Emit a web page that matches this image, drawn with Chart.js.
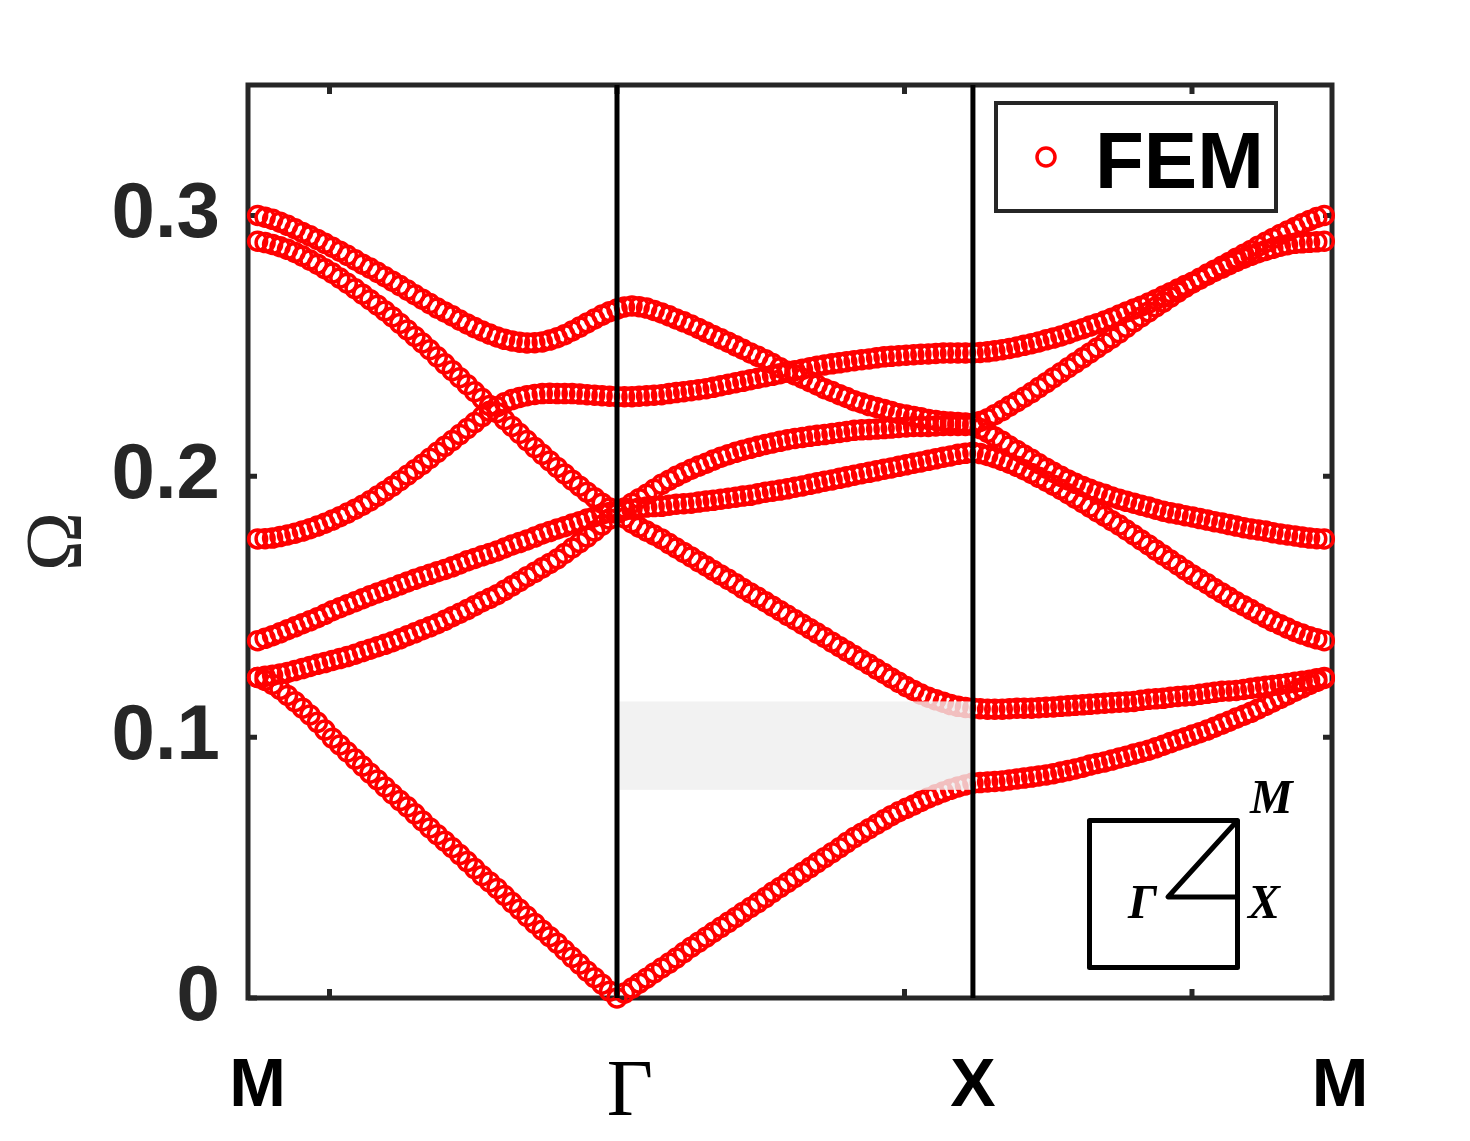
<!DOCTYPE html>
<html>
<head>
<meta charset="utf-8">
<title>FEM band structure</title>
<script src="https://cdn.jsdelivr.net/npm/chart.js@4.4.1/dist/chart.umd.min.js"></script>
<style>
  html, body { margin: 0; padding: 0; background: #fff; }
  #wrap { width: 1470px; height: 1141px; }
</style>
</head>
<body>
<div id="wrap"><canvas id="bands" width="1470" height="1141"></canvas></div>
<script>
// k along the path M -> Gamma -> X -> M (48 steps per leg)
var kPath = [
  -1.250, -1.224, -1.198, -1.172, -1.146, -1.120, -1.094, -1.068, -1.042, -1.016, -0.990, -0.964,
  -0.938, -0.911, -0.885, -0.859, -0.833, -0.807, -0.781, -0.755, -0.729, -0.703, -0.677, -0.651,
  -0.625, -0.599, -0.573, -0.547, -0.521, -0.495, -0.469, -0.443, -0.417, -0.391, -0.365, -0.339,
  -0.313, -0.286, -0.260, -0.234, -0.208, -0.182, -0.156, -0.130, -0.104, -0.078, -0.052, -0.026, 0,
  0.026, 0.052, 0.077, 0.103, 0.129, 0.155, 0.181, 0.206, 0.232, 0.258, 0.284, 0.310,
  0.335, 0.361, 0.387, 0.413, 0.438, 0.464, 0.490, 0.516, 0.541, 0.567, 0.593, 0.619,
  0.645, 0.671, 0.696, 0.722, 0.748, 0.774, 0.799, 0.825, 0.851, 0.877, 0.903, 0.929,
  0.954, 0.980, 1.006, 1.032, 1.057, 1.083, 1.109, 1.135, 1.160, 1.186, 1.212, 1.238,
  1.263, 1.289, 1.314, 1.340, 1.365, 1.391, 1.416, 1.442, 1.467, 1.493, 1.518, 1.544,
  1.569, 1.594, 1.620, 1.645, 1.670, 1.696, 1.721, 1.747, 1.772, 1.798, 1.823, 1.849,
  1.874, 1.900, 1.925, 1.951, 1.976, 2.002, 2.027, 2.053, 2.078, 2.104, 2.129, 2.154,
  2.180, 2.205, 2.230, 2.256, 2.281, 2.307, 2.332, 2.358, 2.383, 2.409, 2.434, 2.460
];

// normalised frequency Omega of each branch
var band1 = [
  0.1229, 0.1218, 0.1202, 0.1183, 0.1160, 0.1136, 0.1111, 0.1085, 0.1057, 0.1027, 0.0996, 0.0970,
  0.0943, 0.0916, 0.0889, 0.0862, 0.0836, 0.0809, 0.0782, 0.0757, 0.0733, 0.0706, 0.0679, 0.0652,
  0.0626, 0.0601, 0.0576, 0.0550, 0.0523, 0.0496, 0.0469, 0.0445, 0.0420, 0.0393, 0.0366, 0.0340,
  0.0313, 0.0286, 0.0260, 0.0235, 0.0210, 0.0183, 0.0156, 0.0130, 0.0103, 0.0078, 0.0053, 0.0026, 0.0000,
  0.0019, 0.0038, 0.0057, 0.0076, 0.0096, 0.0115, 0.0134, 0.0153, 0.0174, 0.0195, 0.0214, 0.0233,
  0.0252, 0.0271, 0.0290, 0.0309, 0.0328, 0.0347, 0.0366, 0.0385, 0.0405, 0.0424, 0.0443, 0.0462,
  0.0481, 0.0500, 0.0519, 0.0538, 0.0557, 0.0576, 0.0596, 0.0615, 0.0632, 0.0649, 0.0666, 0.0683,
  0.0699, 0.0714, 0.0727, 0.0740, 0.0754, 0.0767, 0.0779, 0.0790, 0.0800, 0.0809, 0.0817, 0.0824,
  0.0826, 0.0828, 0.0830, 0.0832, 0.0836, 0.0840, 0.0843, 0.0847, 0.0851, 0.0855, 0.0860, 0.0866,
  0.0872, 0.0878, 0.0885, 0.0893, 0.0899, 0.0905, 0.0912, 0.0920, 0.0927, 0.0935, 0.0942, 0.0950,
  0.0959, 0.0969, 0.0979, 0.0989, 0.0998, 0.1008, 0.1017, 0.1027, 0.1038, 0.1050, 0.1061, 0.1073,
  0.1084, 0.1095, 0.1108, 0.1122, 0.1135, 0.1149, 0.1162, 0.1176, 0.1189, 0.1202, 0.1214, 0.1225
];
var band2 = [
  0.1229, 0.1233, 0.1237, 0.1242, 0.1248, 0.1255, 0.1263, 0.1271, 0.1279, 0.1286, 0.1294, 0.1301,
  0.1309, 0.1318, 0.1328, 0.1337, 0.1347, 0.1356, 0.1366, 0.1377, 0.1389, 0.1400, 0.1412, 0.1423,
  0.1435, 0.1448, 0.1462, 0.1475, 0.1489, 0.1504, 0.1519, 0.1532, 0.1546, 0.1563, 0.1580, 0.1597,
  0.1615, 0.1632, 0.1649, 0.1666, 0.1683, 0.1704, 0.1725, 0.1746, 0.1767, 0.1790, 0.1813, 0.1836, 0.1859,
  0.1840, 0.1821, 0.1805, 0.1790, 0.1775, 0.1760, 0.1742, 0.1725, 0.1708, 0.1691, 0.1673, 0.1656,
  0.1639, 0.1622, 0.1605, 0.1588, 0.1570, 0.1553, 0.1536, 0.1519, 0.1502, 0.1485, 0.1467, 0.1450,
  0.1433, 0.1416, 0.1399, 0.1382, 0.1364, 0.1347, 0.1330, 0.1313, 0.1296, 0.1279, 0.1261, 0.1244,
  0.1227, 0.1210, 0.1194, 0.1179, 0.1165, 0.1153, 0.1143, 0.1134, 0.1125, 0.1118, 0.1114, 0.1111,
  0.1109, 0.1107, 0.1107, 0.1107, 0.1109, 0.1111, 0.1111, 0.1111, 0.1113, 0.1115, 0.1116, 0.1118,
  0.1120, 0.1122, 0.1124, 0.1126, 0.1128, 0.1130, 0.1132, 0.1134, 0.1135, 0.1137, 0.1141, 0.1145,
  0.1147, 0.1149, 0.1153, 0.1156, 0.1158, 0.1160, 0.1164, 0.1168, 0.1172, 0.1176, 0.1177, 0.1179,
  0.1183, 0.1187, 0.1191, 0.1195, 0.1198, 0.1202, 0.1206, 0.1210, 0.1214, 0.1218, 0.1224, 0.1229
];
var band3 = [
  0.1370, 0.1379, 0.1389, 0.1400, 0.1412, 0.1423, 0.1435, 0.1446, 0.1458, 0.1471, 0.1485, 0.1496,
  0.1508, 0.1519, 0.1531, 0.1542, 0.1553, 0.1563, 0.1573, 0.1584, 0.1595, 0.1605, 0.1615, 0.1624,
  0.1634, 0.1643, 0.1653, 0.1664, 0.1676, 0.1685, 0.1695, 0.1704, 0.1714, 0.1725, 0.1737, 0.1746,
  0.1756, 0.1767, 0.1779, 0.1788, 0.1798, 0.1807, 0.1817, 0.1826, 0.1836, 0.1845, 0.1855, 0.1861, 0.1866,
  0.1870, 0.1874, 0.1878, 0.1882, 0.1884, 0.1885, 0.1889, 0.1893, 0.1895, 0.1897, 0.1901, 0.1905,
  0.1908, 0.1912, 0.1916, 0.1920, 0.1924, 0.1927, 0.1933, 0.1939, 0.1943, 0.1947, 0.1952, 0.1958,
  0.1963, 0.1969, 0.1975, 0.1981, 0.1986, 0.1992, 0.1998, 0.2004, 0.2010, 0.2015, 0.2021, 0.2027,
  0.2032, 0.2038, 0.2044, 0.2050, 0.2055, 0.2061, 0.2067, 0.2073, 0.2078, 0.2084, 0.2088, 0.2092,
  0.2087, 0.2080, 0.2071, 0.2061, 0.2050, 0.2038, 0.2025, 0.2011, 0.1996, 0.1981, 0.1966, 0.1950,
  0.1933, 0.1916, 0.1899, 0.1882, 0.1864, 0.1847, 0.1830, 0.1813, 0.1794, 0.1775, 0.1756, 0.1737,
  0.1717, 0.1698, 0.1679, 0.1660, 0.1641, 0.1622, 0.1605, 0.1588, 0.1570, 0.1553, 0.1536, 0.1519,
  0.1504, 0.1489, 0.1473, 0.1458, 0.1444, 0.1431, 0.1418, 0.1405, 0.1395, 0.1385, 0.1377, 0.1370
];
var band4 = [
  0.2901, 0.2896, 0.2889, 0.2880, 0.2870, 0.2858, 0.2844, 0.2829, 0.2813, 0.2796, 0.2779, 0.2760,
  0.2740, 0.2719, 0.2698, 0.2677, 0.2656, 0.2634, 0.2611, 0.2586, 0.2561, 0.2536, 0.2511, 0.2485,
  0.2458, 0.2431, 0.2405, 0.2378, 0.2351, 0.2324, 0.2298, 0.2271, 0.2244, 0.2217, 0.2191, 0.2164,
  0.2137, 0.2110, 0.2084, 0.2059, 0.2034, 0.2009, 0.1985, 0.1962, 0.1939, 0.1918, 0.1897, 0.1878, 0.1859,
  0.1878, 0.1897, 0.1914, 0.1931, 0.1950, 0.1969, 0.1985, 0.2000, 0.2014, 0.2027, 0.2039, 0.2050,
  0.2062, 0.2073, 0.2083, 0.2092, 0.2100, 0.2107, 0.2115, 0.2122, 0.2128, 0.2134, 0.2140, 0.2145,
  0.2149, 0.2153, 0.2157, 0.2160, 0.2164, 0.2168, 0.2172, 0.2176, 0.2178, 0.2179, 0.2181, 0.2183,
  0.2185, 0.2187, 0.2189, 0.2191, 0.2191, 0.2191, 0.2193, 0.2195, 0.2195, 0.2195, 0.2195, 0.2195,
  0.2183, 0.2168, 0.2151, 0.2134, 0.2116, 0.2099, 0.2082, 0.2065, 0.2048, 0.2031, 0.2015, 0.2000,
  0.1986, 0.1973, 0.1961, 0.1950, 0.1940, 0.1931, 0.1921, 0.1912, 0.1904, 0.1897, 0.1889, 0.1882,
  0.1874, 0.1866, 0.1860, 0.1855, 0.1849, 0.1844, 0.1838, 0.1832, 0.1826, 0.1821, 0.1815, 0.1809,
  0.1803, 0.1798, 0.1794, 0.1790, 0.1784, 0.1779, 0.1775, 0.1771, 0.1767, 0.1763, 0.1761, 0.1760
];
var band5 = [
  0.1760, 0.1761, 0.1763, 0.1769, 0.1775, 0.1782, 0.1790, 0.1799, 0.1809, 0.1820, 0.1832, 0.1845,
  0.1859, 0.1874, 0.1889, 0.1906, 0.1924, 0.1943, 0.1962, 0.1983, 0.2004, 0.2025, 0.2046, 0.2069,
  0.2092, 0.2115, 0.2137, 0.2160, 0.2183, 0.2206, 0.2229, 0.2249, 0.2267, 0.2282, 0.2294, 0.2302,
  0.2309, 0.2314, 0.2317, 0.2318, 0.2317, 0.2317, 0.2317, 0.2315, 0.2313, 0.2311, 0.2309, 0.2307, 0.2305,
  0.2305, 0.2305, 0.2307, 0.2309, 0.2311, 0.2313, 0.2317, 0.2321, 0.2324, 0.2328, 0.2332, 0.2336,
  0.2341, 0.2347, 0.2353, 0.2359, 0.2364, 0.2370, 0.2376, 0.2382, 0.2387, 0.2393, 0.2399, 0.2405,
  0.2410, 0.2416, 0.2422, 0.2427, 0.2431, 0.2435, 0.2439, 0.2443, 0.2447, 0.2450, 0.2454, 0.2458,
  0.2460, 0.2462, 0.2464, 0.2466, 0.2468, 0.2469, 0.2471, 0.2473, 0.2473, 0.2473, 0.2473, 0.2473,
  0.2475, 0.2477, 0.2481, 0.2485, 0.2490, 0.2496, 0.2502, 0.2508, 0.2515, 0.2523, 0.2530, 0.2538,
  0.2547, 0.2557, 0.2566, 0.2576, 0.2585, 0.2595, 0.2606, 0.2618, 0.2630, 0.2641, 0.2652, 0.2664,
  0.2677, 0.2691, 0.2704, 0.2718, 0.2731, 0.2744, 0.2759, 0.2775, 0.2790, 0.2805, 0.2820, 0.2836,
  0.2851, 0.2866, 0.2882, 0.2897, 0.2912, 0.2927, 0.2940, 0.2954, 0.2968, 0.2981, 0.2992, 0.3000
];
var band6 = [
  0.3000, 0.2993, 0.2985, 0.2974, 0.2962, 0.2949, 0.2935, 0.2922, 0.2908, 0.2893, 0.2878, 0.2863,
  0.2847, 0.2830, 0.2813, 0.2798, 0.2782, 0.2765, 0.2748, 0.2731, 0.2714, 0.2696, 0.2679, 0.2662,
  0.2645, 0.2630, 0.2615, 0.2599, 0.2584, 0.2570, 0.2557, 0.2545, 0.2534, 0.2525, 0.2519, 0.2514,
  0.2511, 0.2512, 0.2515, 0.2522, 0.2531, 0.2543, 0.2557, 0.2572, 0.2588, 0.2603, 0.2618, 0.2631, 0.2641,
  0.2649, 0.2653, 0.2650, 0.2645, 0.2636, 0.2626, 0.2615, 0.2603, 0.2592, 0.2580, 0.2567, 0.2553,
  0.2540, 0.2527, 0.2514, 0.2500, 0.2487, 0.2473, 0.2460, 0.2447, 0.2432, 0.2416, 0.2403, 0.2389,
  0.2376, 0.2363, 0.2350, 0.2336, 0.2325, 0.2313, 0.2302, 0.2290, 0.2281, 0.2271, 0.2264, 0.2256,
  0.2248, 0.2240, 0.2235, 0.2229, 0.2224, 0.2218, 0.2214, 0.2210, 0.2208, 0.2206, 0.2204, 0.2202,
  0.2210, 0.2221, 0.2236, 0.2252, 0.2269, 0.2286, 0.2303, 0.2321, 0.2340, 0.2359, 0.2378, 0.2397,
  0.2416, 0.2435, 0.2454, 0.2473, 0.2492, 0.2511, 0.2530, 0.2550, 0.2571, 0.2592, 0.2611, 0.2630,
  0.2649, 0.2668, 0.2687, 0.2706, 0.2724, 0.2741, 0.2756, 0.2771, 0.2785, 0.2798, 0.2811, 0.2824,
  0.2836, 0.2847, 0.2857, 0.2866, 0.2874, 0.2882, 0.2888, 0.2893, 0.2895, 0.2897, 0.2899, 0.2901
];

var kLabelPos = [-1.25, 0.045, 1.238, 2.515];
var kLabels = ['M', 'Γ', 'X', 'M'];
var kNodes = [0, 1.238];          // vertical lines at Gamma and X
var kMinorTicks = [-1, 0, 1, 2];
var yTicks = [0, 0.1, 0.2, 0.3];
var gapK = [0, 1.238];
var gapOmega = [0.0798, 0.1137];  // shaded band gap

var RED = '#ff0000';
var AXIS = '#262626';

function toPoints(values){
  return kPath.map(function(k, i){ return {x: k, y: values[i]}; });
}

var datasets = [];
kNodes.forEach(function(k){
  datasets.push({
    label: 'node',
    guide: true,
    data: [{x: k, y: 0}, {x: k, y: 0.35}],
    showLine: true,
    borderColor: '#000',
    borderWidth: 5,
    pointRadius: 0,
    order: 0
  });
});
[band1, band2, band3, band4, band5, band6].forEach(function(b){
  datasets.push({
    label: 'FEM',
    data: toPoints(b),
    showLine: false,
    pointStyle: 'circle',
    pointRadius: 9,
    pointHoverRadius: 9,
    pointBorderWidth: 3.5,
    pointBorderColor: RED,
    pointBackgroundColor: 'rgba(0,0,0,0)',
    clip: false,
    order: 1
  });
});

var gapDone = false;
var framePlugin = {
  id: 'frame',
  beforeDatasetsDraw: function(chart){
    var a = chart.chartArea, xs = chart.scales.x, ys = chart.scales.y, c = chart.ctx;
    c.save();
    c.strokeStyle = AXIS;
    c.lineWidth = 5;
    c.beginPath();
    kMinorTicks.forEach(function(k){
      var px = xs.getPixelForValue(k);
      c.moveTo(px, a.bottom); c.lineTo(px, a.bottom - 9);
      c.moveTo(px, a.top); c.lineTo(px, a.top + 9);
    });
    yTicks.forEach(function(v){
      var py = ys.getPixelForValue(v);
      c.moveTo(a.left, py); c.lineTo(a.left + 9, py);
      c.moveTo(a.right, py); c.lineTo(a.right - 9, py);
    });
    c.stroke();
    c.strokeRect(a.left, a.top, a.right - a.left, a.bottom - a.top);
    c.restore();
    gapDone = false;
  },
  beforeDatasetDraw: function(chart, args){
    // shade the gap after the circles, before the black node lines
    if (gapDone || !chart.data.datasets[args.index].guide) return;
    var xs = chart.scales.x, ys = chart.scales.y, c = chart.ctx;
    var x0 = xs.getPixelForValue(gapK[0]), x1 = xs.getPixelForValue(gapK[1]);
    var y0 = ys.getPixelForValue(gapOmega[1]), y1 = ys.getPixelForValue(gapOmega[0]);
    c.save();
    c.fillStyle = 'rgba(239,239,239,0.8)';
    c.fillRect(x0, y0, x1 - x0, y1 - y0);
    c.restore();
    gapDone = true;
  },
  afterDraw: function(chart){
    var a = chart.chartArea, c = chart.ctx;
    c.save();
    // legend
    c.fillStyle = '#fff';
    c.fillRect(a.right - 336, a.top + 18, 280, 108);
    c.strokeStyle = AXIS;
    c.lineWidth = 4;
    c.strokeRect(a.right - 336, a.top + 18, 280, 108);
    c.strokeStyle = RED;
    c.lineWidth = 3.5;
    c.beginPath();
    c.arc(a.right - 286, a.top + 72, 9, 0, Math.PI * 2);
    c.stroke();
    c.fillStyle = '#000';
    c.font = 'bold 80px "Liberation Sans", Arial, sans-serif';
    c.textBaseline = 'alphabetic';
    c.textAlign = 'left';
    c.fillText('FEM', a.right - 237, a.top + 103);

    // Brillouin zone inset
    c.strokeStyle = '#000';
    c.lineWidth = 5;
    c.lineJoin = 'round';
    c.strokeRect(a.right - 242.5, a.bottom - 177.5, 148, 147);
    c.beginPath();
    c.moveTo(a.right - 94.5, a.bottom - 177.5);
    c.lineTo(a.right - 164, a.bottom - 101);
    c.lineTo(a.right - 94.5, a.bottom - 101);
    c.stroke();
    c.font = 'italic bold 48px "Liberation Serif", "Times New Roman", serif';
    c.fillText('M', a.right - 82, a.bottom - 185);
    c.fillText('Γ', a.right - 204, a.bottom - 80);
    c.fillText('X', a.right - 84, a.bottom - 80);
    c.restore();
  }
};

new Chart(document.getElementById('bands'), {
  type: 'scatter',
  data: { datasets: datasets },
  options: {
    responsive: false,
    animation: false,
    devicePixelRatio: 1,
    layout: { padding: { left: 0, right: 138, top: 85, bottom: 0 } },
    plugins: { legend: { display: false }, tooltip: { enabled: false } },
    scales: {
      x: {
        type: 'linear',
        min: -1.2835,
        max: 2.487,
        grid: { display: false, drawTicks: false },
        border: { display: false },
        afterBuildTicks: function(s){ s.ticks = kLabelPos.map(function(v){ return {value: v}; }); },
        afterFit: function(s){ s.height = 143; },
        ticks: {
          autoSkip: false,
          maxRotation: 0,
          minRotation: 0,
          padding: 48,
          color: '#000',
          font: function(ctx){
            return kLabels[ctx.index] === 'Γ'
              ? { family: '"Liberation Serif", "Times New Roman", serif', size: 80, weight: 'normal' }
              : { family: '"Liberation Sans", Arial, sans-serif', size: 68, weight: 'bold' };
          },
          callback: function(v, i){ return kLabels[i]; }
        }
      },
      y: {
        type: 'linear',
        min: 0,
        max: 0.35,
        grid: { display: false, drawTicks: false },
        border: { display: false },
        afterBuildTicks: function(s){ s.ticks = yTicks.map(function(v){ return {value: v}; }); },
        afterFit: function(s){ s.width = 248; },
        ticks: {
          padding: 28,
          color: AXIS,
          font: { family: '"Liberation Sans", Arial, sans-serif', size: 78, weight: 'bold' },
          callback: function(v){ return v === 0 ? '0' : v.toFixed(1); }
        },
        title: {
          display: true,
          text: 'Ω',
          color: AXIS,
          font: { family: '"Liberation Serif", "Times New Roman", serif', size: 80, weight: 'normal' },
          padding: { top: 12, bottom: 0 }
        }
      }
    }
  },
  plugins: [framePlugin]
});
</script>
</body>
</html>
